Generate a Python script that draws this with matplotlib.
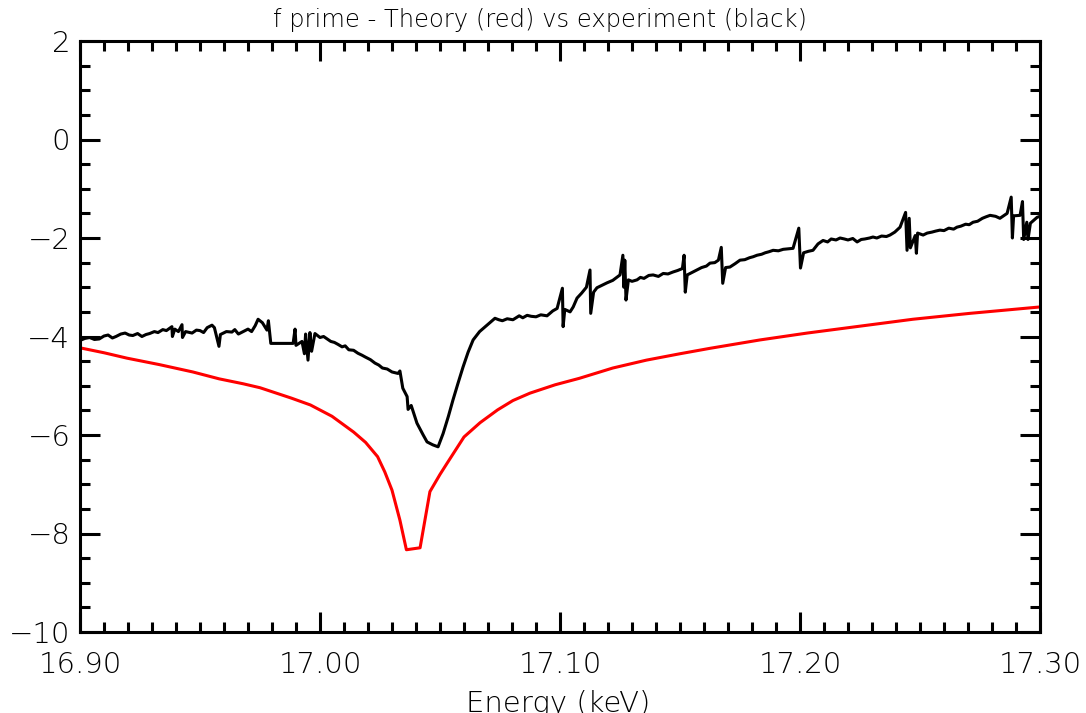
import matplotlib
matplotlib.use("Agg")
import numpy as np
import matplotlib.pyplot as plt
from matplotlib.ticker import MultipleLocator, FormatStrFormatter

# experiment (black), glitches kept as spikes
exp_energy = [
    16.9000, 16.9020, 16.9040, 16.9060, 16.9080, 16.9100, 16.9117, 16.9135, 16.9150, 16.9170,
    16.9188, 16.9205, 16.9220, 16.9240, 16.9258, 16.9275, 16.9290, 16.9310, 16.9325, 16.9345,
    16.9360, 16.9383, 16.9385, 16.9395, 16.9410, 16.9425, 16.9427, 16.9440, 16.9467, 16.9485,
    16.9500, 16.9515, 16.9530, 16.9550, 16.9560, 16.9579, 16.9585, 16.9610, 16.9633, 16.9645,
    16.9660, 16.9680, 16.9700, 16.9715, 16.9730, 16.9742, 16.9760, 16.9779, 16.9785, 16.9795,
    16.9888, 16.9896, 16.9900, 16.9925, 16.9935, 16.9940, 16.9950, 16.9958, 16.9965, 16.9979,
    17.0000, 17.0015, 17.0033, 17.0045, 17.0060, 17.0075, 17.0092, 17.0105, 17.0120, 17.0140,
    17.0158, 17.0175, 17.0190, 17.0210, 17.0229, 17.0245, 17.0260, 17.0280, 17.0300, 17.0325,
    17.0333, 17.0345, 17.0363, 17.0367, 17.0380, 17.0404, 17.0430, 17.0446, 17.0470, 17.0492,
    17.0513, 17.0535, 17.0554, 17.0575, 17.0596, 17.0617, 17.0638, 17.0665, 17.0696, 17.0729,
    17.0745, 17.0760, 17.0780, 17.0804, 17.0830, 17.0845, 17.0863, 17.0880, 17.0900, 17.0920,
    17.0946, 17.0970, 17.0988, 17.1010, 17.1013, 17.1020, 17.1042, 17.1055, 17.1071, 17.1090,
    17.1110, 17.1125, 17.1128, 17.1140, 17.1154, 17.1175, 17.1196, 17.1220, 17.1250, 17.1262,
    17.1266, 17.1270, 17.1275, 17.1285, 17.1300, 17.1321, 17.1335, 17.1350, 17.1370, 17.1388,
    17.1410, 17.1430, 17.1450, 17.1471, 17.1490, 17.1510, 17.1517, 17.1522, 17.1530, 17.1554,
    17.1570, 17.1590, 17.1610, 17.1625, 17.1645, 17.1660, 17.1672, 17.1678, 17.1690, 17.1708,
    17.1730, 17.1750, 17.1770, 17.1790, 17.1805, 17.1821, 17.1840, 17.1855, 17.1870, 17.1888,
    17.1910, 17.1930, 17.1950, 17.1971, 17.1995, 17.2002, 17.2015, 17.2035, 17.2054, 17.2075,
    17.2096, 17.2115, 17.2130, 17.2150, 17.2167, 17.2185, 17.2200, 17.2220, 17.2238, 17.2255,
    17.2270, 17.2290, 17.2304, 17.2320, 17.2340, 17.2360, 17.2375, 17.2395, 17.2417, 17.2440,
    17.2446, 17.2455, 17.2460, 17.2480, 17.2485, 17.2490, 17.2513, 17.2530, 17.2550, 17.2565,
    17.2583, 17.2600, 17.2620, 17.2640, 17.2654, 17.2670, 17.2690, 17.2705, 17.2721, 17.2740,
    17.2760, 17.2775, 17.2792, 17.2815, 17.2833, 17.2863, 17.2880, 17.2885, 17.2890, 17.2917,
    17.2927, 17.2932, 17.2945, 17.2950, 17.2960, 17.2988, 17.3000,
]
exp_fprime = [
    -4.08, -4.04, -4.02, -4.06, -4.05, -3.99, -3.97, -4.03, -4.00, -3.95,
    -3.93, -3.97, -3.98, -3.94, -4.00, -3.96, -3.94, -3.90, -3.92, -3.86,
    -3.88, -3.80, -4.00, -3.85, -3.90, -3.76, -4.02, -3.90, -3.93, -3.87,
    -3.88, -3.92, -3.82, -3.77, -3.82, -4.20, -3.96, -3.90, -3.91, -3.86,
    -3.95, -3.90, -3.85, -3.90, -3.78, -3.65, -3.72, -3.87, -3.68, -4.14,
    -4.14, -3.85, -4.18, -4.10, -4.35, -3.95, -4.48, -3.92, -4.30, -3.94,
    -4.02, -4.00, -4.06, -4.10, -4.12, -4.16, -4.21, -4.19, -4.27, -4.28,
    -4.34, -4.38, -4.42, -4.47, -4.54, -4.58, -4.64, -4.66, -4.72, -4.75,
    -4.70, -5.05, -5.22, -5.48, -5.40, -5.76, -6.00, -6.14, -6.20, -6.24,
    -5.97, -5.62, -5.29, -4.95, -4.62, -4.32, -4.07, -3.90, -3.77, -3.63,
    -3.66, -3.68, -3.64, -3.66, -3.58, -3.62, -3.57, -3.59, -3.60, -3.56,
    -3.58, -3.48, -3.43, -3.02, -3.80, -3.45, -3.50, -3.40, -3.22, -3.12,
    -3.00, -2.65, -3.53, -3.10, -3.01, -2.96, -2.91, -2.86, -2.75, -2.35,
    -3.00, -2.45, -3.26, -2.85, -2.88, -2.85, -2.80, -2.82, -2.76, -2.75,
    -2.78, -2.72, -2.73, -2.69, -2.66, -2.62, -2.35, -3.10, -2.75, -2.69,
    -2.65, -2.60, -2.57, -2.51, -2.50, -2.45, -2.19, -2.92, -2.60, -2.59,
    -2.52, -2.45, -2.44, -2.40, -2.38, -2.35, -2.33, -2.30, -2.28, -2.25,
    -2.26, -2.23, -2.22, -2.21, -1.80, -2.61, -2.30, -2.27, -2.25, -2.12,
    -2.05, -2.08, -2.02, -2.04, -2.00, -2.02, -2.04, -2.01, -2.08, -2.03,
    -2.02, -2.00, -1.98, -2.00, -1.96, -1.97, -1.94, -1.88, -1.78, -1.48,
    -2.25, -1.60, -2.20, -1.95, -2.31, -1.90, -1.94, -1.90, -1.88, -1.86,
    -1.84, -1.85, -1.80, -1.82, -1.78, -1.76, -1.72, -1.73, -1.68, -1.66,
    -1.60, -1.57, -1.54, -1.56, -1.60, -1.50, -1.17, -2.00, -1.55, -1.54,
    -1.26, -2.03, -1.68, -2.03, -1.70, -1.58, -1.56,
]

# theory (red)
th_energy = [
    16.9000, 16.9100, 16.9196, 16.9330, 16.9470, 16.9580, 16.9680, 16.9750, 16.9880, 16.9960,
    17.0050, 17.0140, 17.0190, 17.0240, 17.0270, 17.0300, 17.0333, 17.0360, 17.0417, 17.0458,
    17.0500, 17.0530, 17.0600, 17.0667, 17.0740, 17.0804, 17.0875, 17.0980, 17.1080, 17.1220,
    17.1360, 17.1500, 17.1625, 17.1833, 17.2030, 17.2250, 17.2470, 17.2708, 17.3000,
]
th_fprime = [
    -4.23, -4.33, -4.44, -4.57, -4.72, -4.86, -4.96, -5.04, -5.25, -5.39,
    -5.62, -5.94, -6.15, -6.44, -6.75, -7.12, -7.73, -8.33, -8.29, -7.15,
    -6.80, -6.57, -6.04, -5.75, -5.49, -5.30, -5.15, -4.98, -4.85, -4.64,
    -4.48, -4.35, -4.24, -4.07, -3.93, -3.79, -3.65, -3.53, -3.40,
]

plt.rcParams["font.family"] = ["DejaVu Sans"]

fig = plt.figure(figsize=(10.86, 7.13), dpi=100)
ax = fig.add_axes([80 / 1086, 1 - 632 / 713, 960 / 1086, 591 / 713])

ax.plot(exp_energy, exp_fprime, color="black", lw=2.2)
ax.plot(th_energy, th_fprime, color="red", lw=2.2)

ax.set_xlim(16.90, 17.30)
ax.set_ylim(-10, 2)
ax.xaxis.set_major_locator(MultipleLocator(0.1))
ax.xaxis.set_minor_locator(MultipleLocator(0.01))
ax.yaxis.set_major_locator(MultipleLocator(2))
ax.yaxis.set_minor_locator(MultipleLocator(0.5))
ax.xaxis.set_major_formatter(FormatStrFormatter("%.2f"))

ax.tick_params(which="both", direction="in", top=True, right=True, width=2.2, colors="black")
ax.tick_params(which="major", length=14.5)
ax.tick_params(which="minor", length=7)
ax.tick_params(axis="x", which="major", labelsize=21, pad=14)
ax.tick_params(axis="y", which="major", labelsize=21, pad=7)
for lab in ax.get_xticklabels() + ax.get_yticklabels():
    lab.set_fontweight("light")
for s in ax.spines.values():
    s.set_linewidth(2.2)

fig.text(0.497, 1 - 20 / 713, "f prime - Theory (red) vs experiment (black)",
         ha="center", va="center", fontsize=17.5, fontweight="light")
fig.text(558 / 1086, 1 - 690 / 713, "Energy (keV)", ha="center", va="top",
         fontsize=21, fontweight="light")

fig.savefig("out.png", dpi=100)
